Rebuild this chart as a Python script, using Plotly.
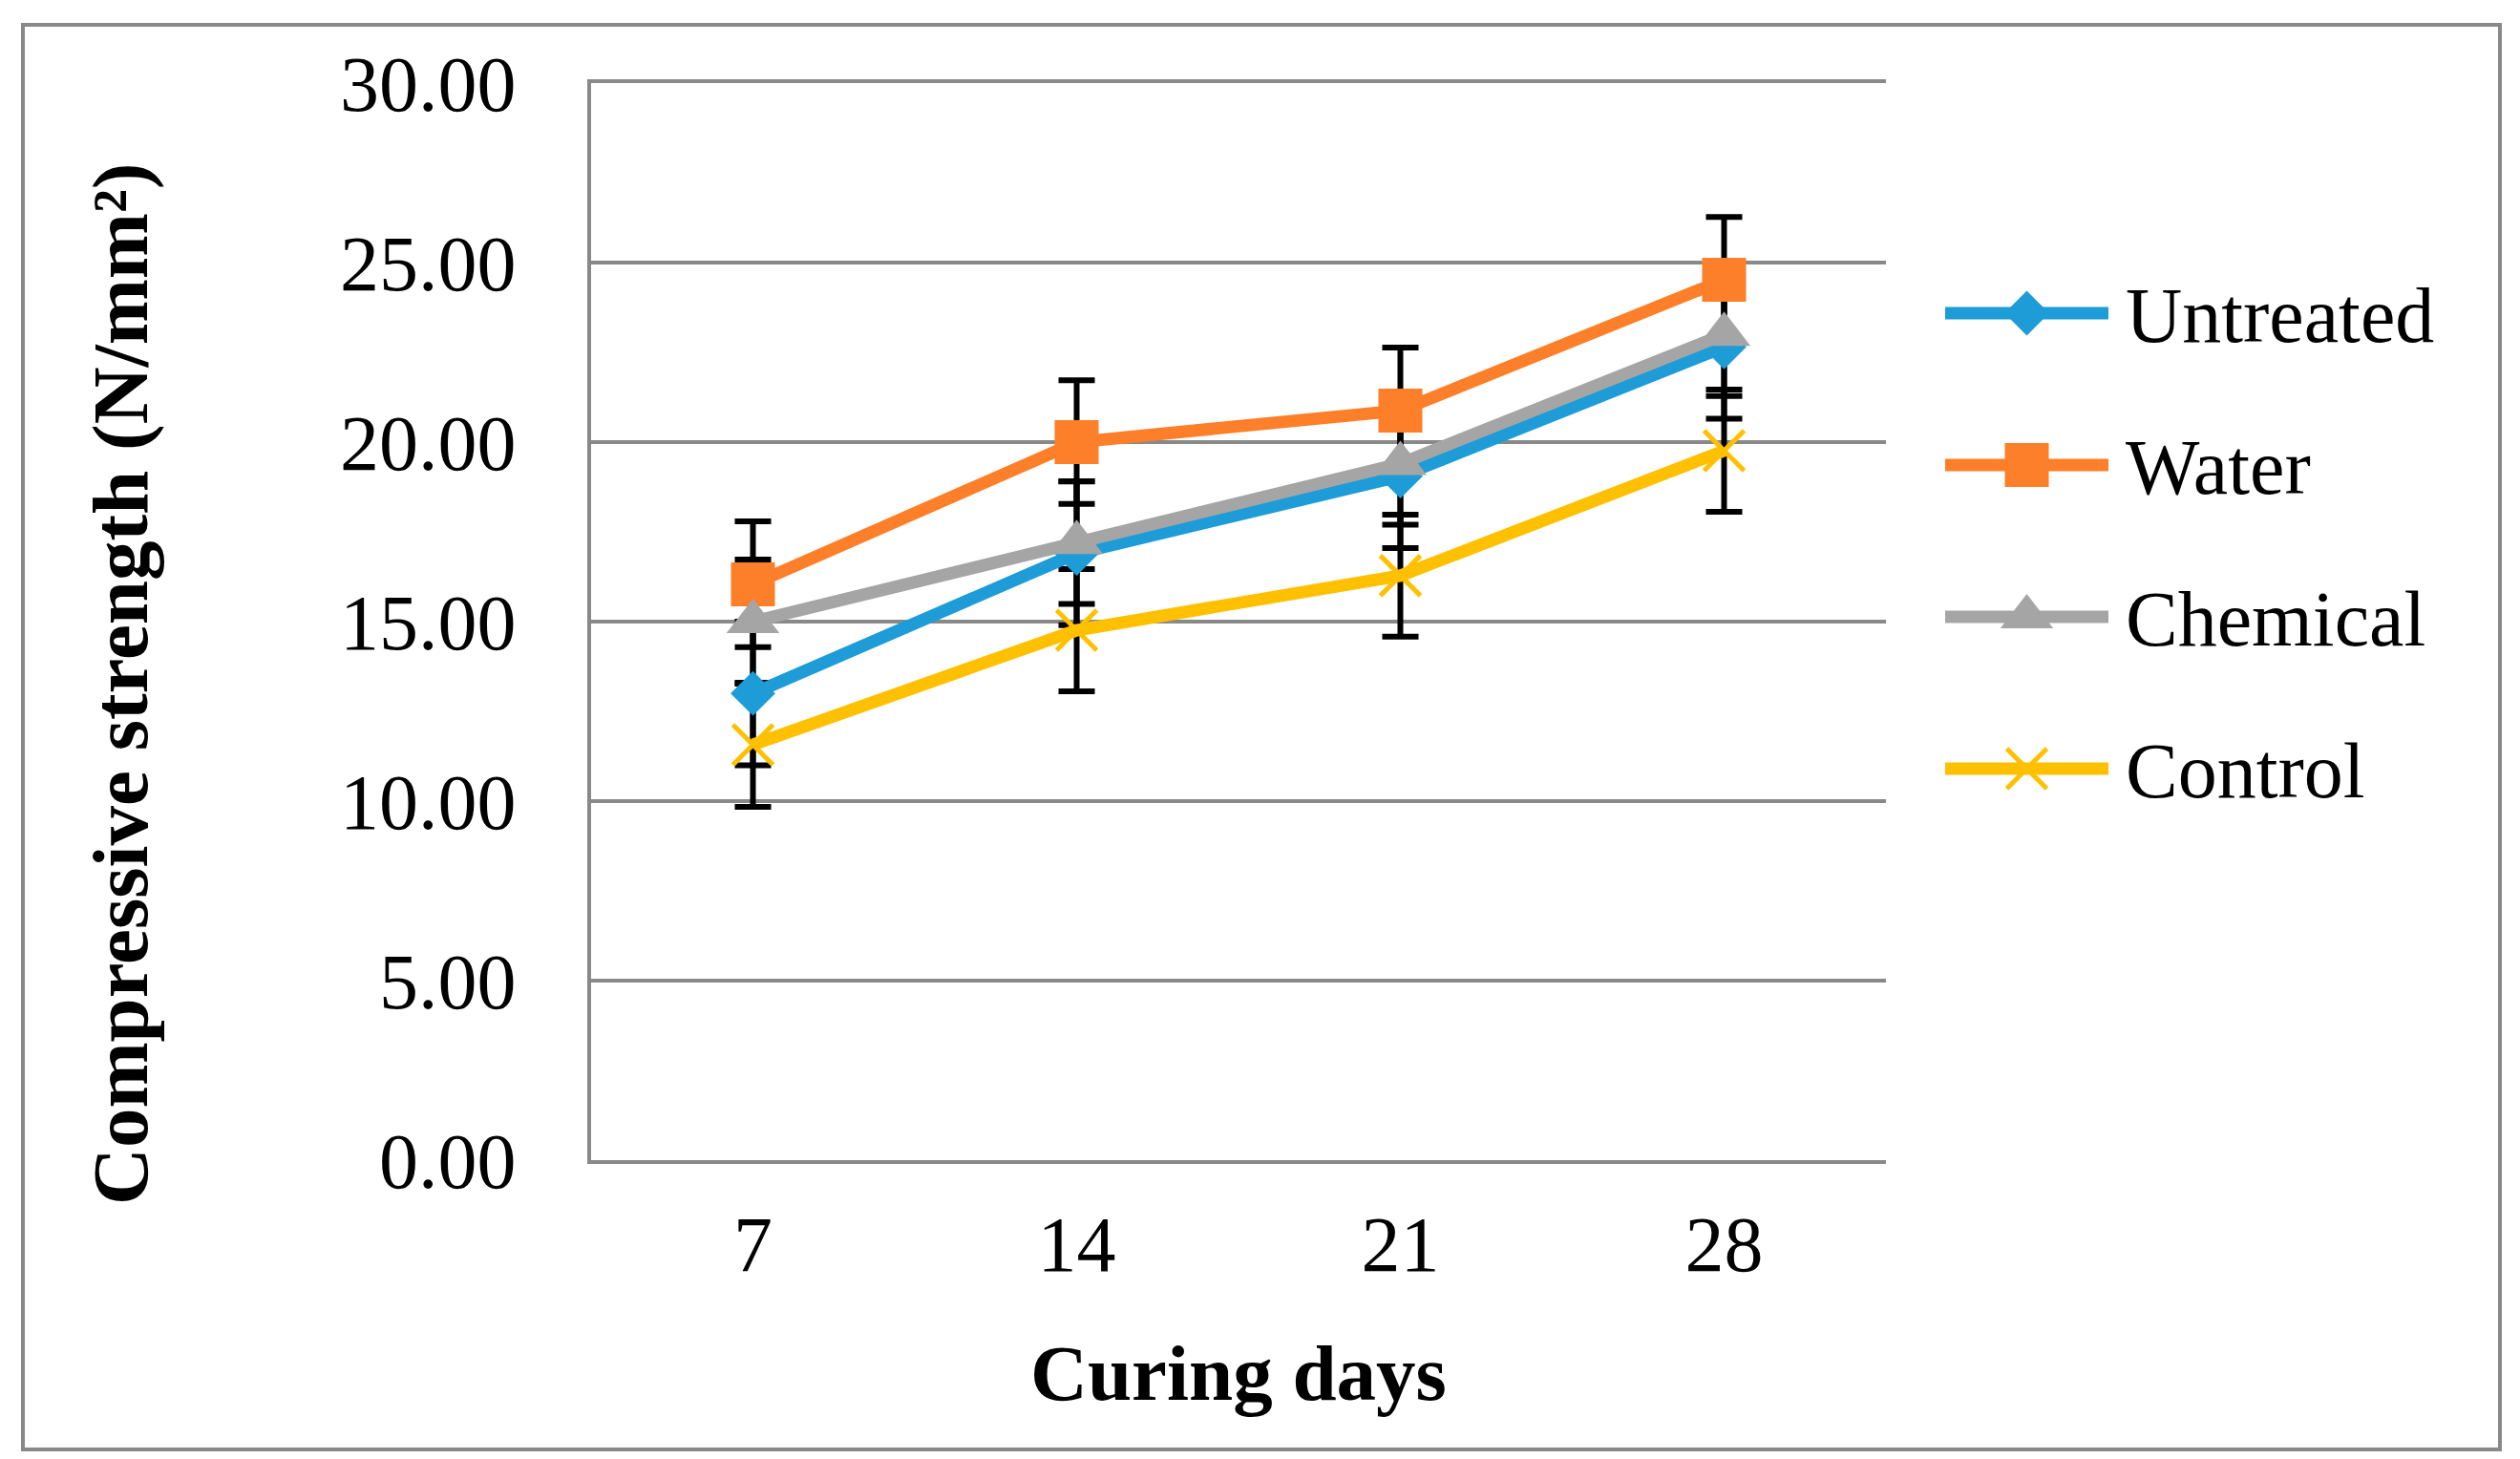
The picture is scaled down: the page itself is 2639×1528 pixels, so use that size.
import plotly.graph_objects as go

W, H = 2639, 1528

days = ["7", "14", "21", "28"]
series_names = ["Untreated", "Water", "Chemical", "Control"]
untreated = [13.00, 16.90, 19.05, 22.65]
water = [16.04, 20.00, 20.88, 24.52]
chemical = [15.00, 17.20, 19.40, 23.00]
control = [11.57, 14.76, 16.28, 19.76]
untreated_err = [2.00, 2.00, 2.00, 2.00]
water_err = [1.75, 1.72, 1.75, 1.75]
chemical_err = [1.73, 1.71, 1.70, 1.72]
control_err = [1.73, 1.70, 1.70, 1.70]
y_ticks = [0, 5, 10, 15, 20, 25, 30]
y_tick_labels = ["0.00", "5.00", "10.00", "15.00", "20.00", "25.00", "30.00"]

values = [untreated, water, chemical, control]
errors = [untreated_err, water_err, chemical_err, control_err]
colors = ["#1E9CD7", "#FE7F2A", "#A5A5A5", "#FFC000"]
symbols = ["diamond", "square", "triangle-up", "x-thin"]
sizes = [36, 46, 48, 42]

FONT = "Liberation Serif, Times New Roman, serif"
GRID = "#898989"

# plot area in pixels
PL, PR, PT, PB = 611, 1967, 79, 1207

fig = go.Figure()

# error bars first (drawn beneath all lines and markers)
for name, v, e in zip(series_names, values, errors):
    fig.add_trace(go.Scatter(
        x=days, y=v, mode="markers",
        marker=dict(size=1, color="rgba(0,0,0,0)"),
        error_y=dict(type="data", array=e, visible=True,
                     color="black", thickness=6, width=19),
        showlegend=False, hoverinfo="skip"))

def marker_style(i, size):
    if symbols[i] == "x-thin":
        return dict(symbol="x-thin", size=size, color=colors[i], opacity=1,
                    line=dict(color=colors[i], width=5))
    return dict(symbol=symbols[i], size=size, color=colors[i], opacity=1,
                line=dict(width=0))

for i, (name, v) in enumerate(zip(series_names, values)):
    fig.add_trace(go.Scatter(
        x=days, y=v, mode="lines+markers", name=name,
        line=dict(color=colors[i], width=13),
        marker=marker_style(i, sizes[i]),
        showlegend=False))

# custom legend (pixel coordinates on hidden axes)
LEG_X0, LEG_X1, LEG_Y0, LEG_DY = 2029, 2200, 320, 159
LEG_TEXT_X = 2216
annotations = []
for i, name in enumerate(series_names):
    yy = LEG_Y0 + i * LEG_DY
    xm = (LEG_X0 + LEG_X1) / 2
    fig.add_trace(go.Scatter(
        x=[LEG_X0, LEG_X1], y=[yy, yy], mode="lines",
        line=dict(color=colors[i], width=13),
        xaxis="x2", yaxis="y2", showlegend=False, hoverinfo="skip"))
    fig.add_trace(go.Scatter(
        x=[xm], y=[yy], mode="markers",
        marker=marker_style(i, sizes[i]),
        xaxis="x2", yaxis="y2", showlegend=False, hoverinfo="skip"))
    annotations.append(dict(
        x=LEG_TEXT_X / W, y=1 - (yy + 2) / H, xref="paper", yref="paper",
        text=name, showarrow=False, xanchor="left", yanchor="middle",
        font=dict(family=FONT, size=82, color="black")))

# axis titles
annotations.append(dict(
    x=(PL + PR) / 2 / W, y=1 - 1430 / H, xref="paper", yref="paper",
    text="<b>Curing days</b>", showarrow=False, xanchor="center", yanchor="middle",
    font=dict(family=FONT, size=83, color="black")))
annotations.append(dict(
    x=118 / W, y=1 - 709 / H, xref="paper", yref="paper",
    text="<b>Compressive strength (N/mm²)</b>", showarrow=False, textangle=-90,
    xanchor="center", yanchor="middle",
    font=dict(family=FONT, size=83, color="black")))

fig.update_layout(
    width=W, height=H, autosize=False,
    margin=dict(l=0, r=0, t=0, b=0, pad=0, autoexpand=False),
    paper_bgcolor="white", plot_bgcolor="rgba(0,0,0,0)",
    font=dict(family=FONT, size=82, color="black"),
    showlegend=False,
    xaxis=dict(domain=[PL / W, PR / W], type="category", range=[-0.5, 3.5],
               showgrid=False, showline=True, mirror=True,
               linecolor=GRID, linewidth=4, automargin=False,
               ticks="", ticklabelstandoff=14, zeroline=False,
               tickfont=dict(family=FONT, size=82, color="black")),
    yaxis=dict(domain=[1 - PB / H, 1 - PT / H], range=[0, 30],
               tickvals=y_ticks, ticktext=y_tick_labels, automargin=False,
               showgrid=True, gridcolor=GRID, gridwidth=4,
               showline=True, linecolor=GRID, linewidth=4,
               ticks="", ticklabelstandoff=58, zeroline=False,
               tickfont=dict(family=FONT, size=82, color="black")),
    xaxis2=dict(domain=[0, 1], range=[0, W], visible=False, anchor="y2"),
    yaxis2=dict(domain=[0, 1], range=[H, 0], visible=False, anchor="x2"),
    annotations=annotations,
    shapes=[dict(type="rect", xref="paper", yref="paper",
                 x0=16 / W, x1=2610 / W, y0=1 - 1510 / H, y1=1 - 18 / H,
                 line=dict(color=GRID, width=4), fillcolor="rgba(0,0,0,0)",
                 layer="below")],
)

fig.write_html("out.html", config={"responsive": False})
